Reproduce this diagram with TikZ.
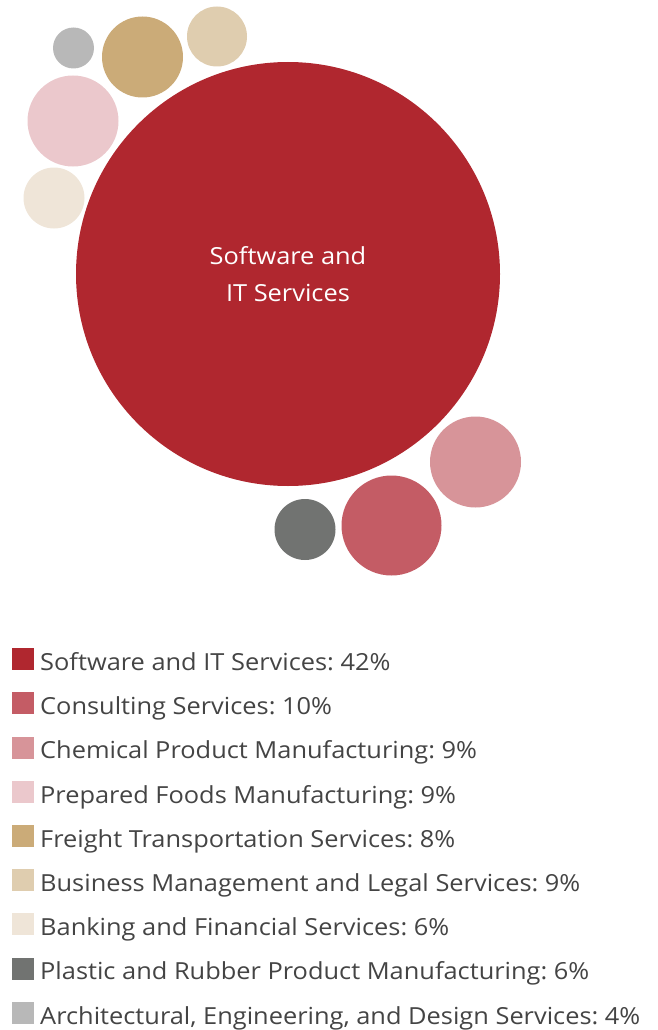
\documentclass[tikz,border=0pt]{standalone}
\usepackage{fontspec}
\setmainfont{Open Sans}[FakeStretch=1.08]
\usetikzlibrary{matrix}
\frenchspacing

\definecolor{softIT}{HTML}{B0272F}
\definecolor{consult}{HTML}{C45C65}
\definecolor{chem}{HTML}{D79499}
\definecolor{foods}{HTML}{EBC8CC}
\definecolor{freight}{HTML}{CBAB78}
\definecolor{business}{HTML}{DFCDAF}
\definecolor{banking}{HTML}{EFE5D8}
\definecolor{plastic}{HTML}{717371}
\definecolor{archi}{HTML}{B8B8B8}
\definecolor{legendtext}{HTML}{444444}

\begin{document}
\begin{tikzpicture} [x=1pt, y=-1pt,
	bubble/.style={circle, draw=none, inner sep=0pt, minimum size=#1}]
	\useasboundingbox (0,0) rectangle (657,1030);
	
	% bubbles
	\node[bubble=424pt, fill=softIT, text=white, align=center,
	font=\fontsize{23.5}{37}\selectfont] (software) at (288,274) {Software and\\IT Services};
	\node[bubble=100pt, fill=consult] (consulting) at (391.5,525.5) {};
	\node[bubble=91pt, fill=chem] (chemical) at (475.5,462) {};
	\node[bubble=91pt, fill=foods] (foods) at (73,121) {};
	\node[bubble=81pt, fill=freight] (freight) at (142.5,57) {};
	\node[bubble=60pt, fill=business] (business) at (217,36.5) {};
	\node[bubble=61pt, fill=banking] (banking) at (54,198) {};
	\node[bubble=61pt, fill=plastic] (plastic) at (305,529.5) {};
	\node[bubble=41pt, fill=archi] (archi) at (73.5,48) {};
	
	% legend
	\matrix(legend)[matrix of nodes, anchor=north west, inner sep=0pt,
	row sep=22pt, column sep=6pt,
	column 1/.style={nodes={anchor=south, minimum size=22pt, inner sep=0pt}},
	column 2/.style={nodes={anchor=base west, inner sep=0pt, text depth=0pt,
			text=legendtext, font=\fontsize{23.5}{24}\selectfont}}]
	at (12,648)
	{
		|[fill=softIT]| {} & Software and IT Services: 42\% \\
		|[fill=consult]| {} & Consulting Services: 10\% \\
		|[fill=chem]| {} & Chemical Product Manufacturing: 9\% \\
		|[fill=foods]| {} & Prepared Foods Manufacturing: 9\% \\
		|[fill=freight]| {} & Freight Transportation Services: 8\% \\
		|[fill=business]| {} & Business Management and Legal Services: 9\% \\
		|[fill=banking]| {} & Banking and Financial Services: 6\% \\
		|[fill=plastic]| {} & Plastic and Rubber Product Manufacturing: 6\% \\
		|[fill=archi]| {} & Architectural, Engineering, and Design Services: 4\% \\
	};
\end{tikzpicture}
\end{document}
